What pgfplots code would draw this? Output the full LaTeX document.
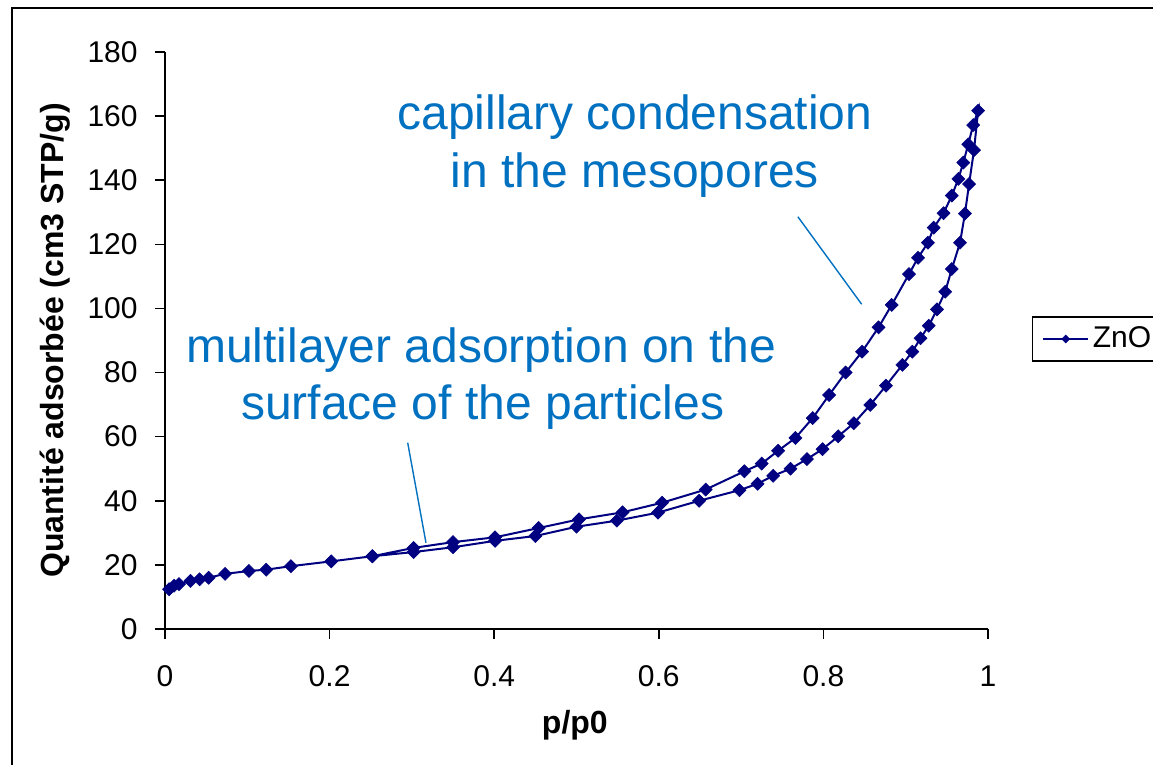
\documentclass[border=0pt]{standalone}
\usepackage{fontspec}
\setmainfont{Liberation Sans}
\usepackage{pgfplots}
\usepackage{pgfplotstable}
\pgfplotsset{compat=1.18}
\definecolor{series}{RGB}{0,0,128}
\definecolor{annot}{RGB}{0,112,192}
\pgfplotstableread{
x y
0.005 12.4
0.011 13.5
0.017 14.0
0.031 15.0
0.042 15.5
0.053 16.0
0.073 17.2
0.102 18.1
0.123 18.5
0.153 19.6
0.202 21.1
0.252 22.7
0.302 24.0
0.350 25.5
0.401 27.5
0.450 29.0
0.500 31.9
0.549 33.8
0.599 36.3
0.649 40.0
0.698 43.3
0.720 45.3
0.739 47.8
0.760 50.0
0.780 53.0
0.799 56.1
0.818 60.1
0.837 64.2
0.857 69.9
0.876 75.9
0.896 82.4
0.908 86.5
0.918 90.7
0.928 94.6
0.938 99.7
0.948 105.2
0.956 112.3
0.966 120.5
0.972 129.6
0.977 138.8
0.983 149.4
0.988 161.7
0.982 157.2
0.976 151.2
0.970 145.5
0.964 140.4
0.956 135.2
0.946 129.7
0.934 125.2
0.927 120.5
0.915 115.8
0.904 110.7
0.883 101.1
0.867 94.1
0.847 86.5
0.827 80.0
0.807 73.0
0.787 65.8
0.766 59.6
0.745 55.6
0.725 51.6
0.704 49.2
0.657 43.5
0.604 39.4
0.556 36.4
0.503 34.2
0.454 31.5
0.401 28.6
0.350 27.1
0.302 25.3
0.252 22.7
}\isotherm
\begin{document}
\begin{tikzpicture}
\begin{axis}[
  scale only axis, width=411.5pt, height=288.5pt,
  xmin=0, xmax=1, ymin=0, ymax=180,
  clip=false,
  axis x line*=bottom, axis y line*=left,
  axis line style={line width=0.8pt, black},
  xtick={0,0.2,0.4,0.6,0.8,1}, ytick={0,20,40,60,80,100,120,140,160,180},
  tick align=outside, major tick length=5pt,
  tick style={line width=0.8pt, black},
  /pgf/number format/assume math mode=true,
  ticklabel style={font=\fontsize{15pt}{18pt}\selectfont, inner sep=0pt},
  yticklabel style={xshift=-8.5pt},
  xticklabel style={yshift=-13pt},
  xlabel={p/p0},
  xlabel style={font=\bfseries\fontsize{16pt}{19pt}\selectfont, at={(axis description cs:0.498,-0.1664)}, anchor=center},
  ylabel={Quantité adsorbée (cm3 STP/g)},
  ylabel style={font=\bfseries\fontsize{16pt}{19pt}\selectfont, at={(axis description cs:-0.1337,0.5)}, anchor=center},
  legend style={at={(axis description cs:1.0535,0.5026)}, anchor=west, draw=black, line width=0.6pt,
    font=\fontsize{15pt}{18pt}\selectfont, inner xsep=5pt, inner ysep=3pt},
  legend image code/.code={\draw[#1,line width=0.6pt,mark repeat=2,mark phase=2,every mark/.append style={scale=0.6}] plot coordinates {(0pt,0pt) (11.25pt,0pt) (22.5pt,0pt)};},
]
\addplot[series, line width=1pt, mark=square*, mark size=2.3pt, mark options={rotate=45, fill=series, draw=series, line width=0.3pt}] table[x=x,y=y] {\isotherm};
\addlegendentry{ZnO}
\node[anchor=base, font=\fontsize{24pt}{28pt}\selectfont, text=annot, inner sep=0pt] at (axis cs:0.571,155.7) {capillary condensation};
\node[anchor=base, font=\fontsize{24pt}{28pt}\selectfont, text=annot, inner sep=0pt] at (axis cs:0.571,137.6) {in the mesopores};
\node[anchor=base, font=\fontsize{24pt}{28pt}\selectfont, text=annot, inner sep=0pt] at (axis cs:0.384,83.0) {multilayer adsorption on the};
\node[anchor=base, font=\fontsize{24pt}{28pt}\selectfont, text=annot, inner sep=0pt] at (axis cs:0.386,65.2) {surface of the particles};
\draw[annot, line width=0.7pt] (axis cs:0.769,128.6) -- (axis cs:0.8465,101.3);
\draw[annot, line width=0.7pt] (axis cs:0.2949,58.1) -- (axis cs:0.3171,26.9);
\end{axis}
\draw[line width=0.9pt] (-76.5pt,-200pt) rectangle (700pt,310.5pt);
\pgfresetboundingbox
\useasboundingbox (-82.5pt,-68pt) rectangle (494pt,314.5pt);
\end{tikzpicture}
\end{document}
